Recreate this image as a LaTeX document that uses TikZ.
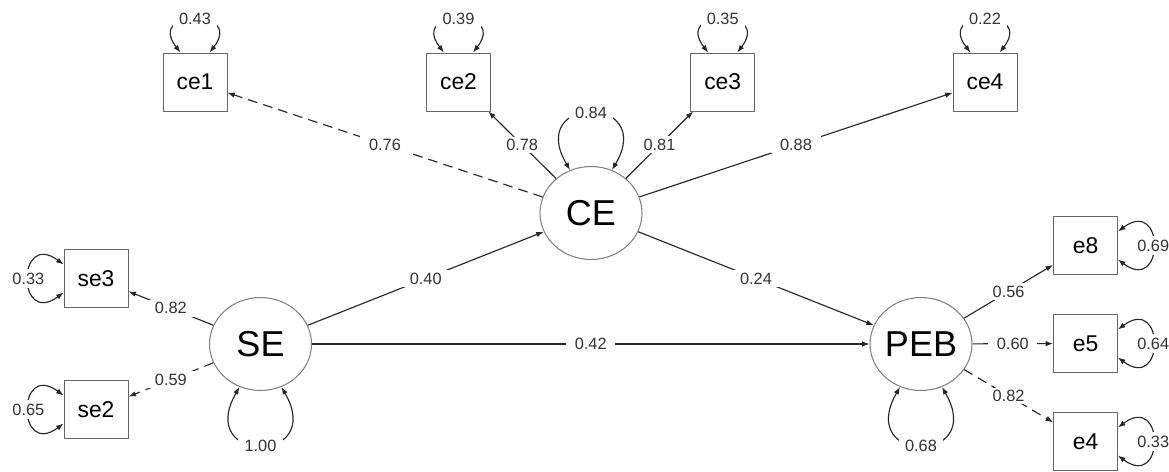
\documentclass[tikz,border=0pt]{standalone}
\usepackage{fontspec}
\setmainfont{Liberation Sans}
\usetikzlibrary{shapes.geometric,arrows.meta}
\begin{document}
\begin{tikzpicture}[x=0.02cm,y=0.02cm,
  tip/.tip={Latex[length=1.5mm,width=1.1mm]},
  manifest/.style={draw=black!60, line width=0.5pt, minimum width=1.28cm,
    minimum height=1.16cm, inner sep=0pt, font=\fontsize{13}{13}\selectfont},
  latent/.style={ellipse, draw=black!50, line width=0.6pt, minimum width=2.04cm,
    minimum height=1.86cm, inner sep=0pt, font=\fontsize{20.5}{20.5}\selectfont},
  load/.style={draw=black!85, line width=0.65pt, -tip},
  weak/.style={load, dash pattern=on 5.5pt off 3.5pt},
  resid/.style={draw=black!85, line width=0.65pt, tip-tip},
  elab/.style={fill=white, inner xsep=5pt, inner ysep=1.5pt,
    font=\fontsize{9.3}{9.3}\selectfont, text=black!80},
  rlab/.style={fill=white, inner xsep=3.5pt, inner ysep=2pt,
    font=\fontsize{9.3}{9.3}\selectfont, text=black!80},
]
\useasboundingbox (0,0) rectangle (1169,-471);

% observed indicators
\node[manifest] (ce1) at (195,-82) {ce1};
\node[manifest] (ce2) at (458.5,-82) {ce2};
\node[manifest] (ce3) at (722.7,-82) {ce3};
\node[manifest] (ce4) at (985,-82) {ce4};
\node[manifest] (se3) at (96,-278.5) {se3};
\node[manifest] (se2) at (96,-409.5) {se2};
\node[manifest] (e8) at (1085.5,-245.5) {e8};
\node[manifest] (e5) at (1085.5,-343.5) {e5};
\node[manifest] (e4) at (1085.5,-441.5) {e4};

% latent factors
\node[latent] (CE) at (591,-213) {\makebox[0pt]{CE}};
\node[latent] (SE) at (260.5,-344) {\makebox[0pt]{SE}};
\node[latent] (PEB) at (921,-344) {\makebox[0pt]{PEB}};

% loadings and structural paths
\draw[weak] (CE) -- node[elab]{0.76} (ce1);
\draw[load] (CE) -- node[elab]{0.78} (ce2);
\draw[load] (CE) -- node[elab]{0.81} (ce3);
\draw[load] (CE) -- node[elab]{0.88} (ce4);
\draw[load] (SE) -- node[elab]{0.82} (se3);
\draw[weak] (SE) -- node[elab]{0.59} (se2);
\draw[load] (SE) -- node[elab]{0.40} (CE);
\draw[load] (SE) -- node[elab]{0.42} (PEB);
\draw[load] (CE) -- node[elab]{0.24} (PEB);
\draw[load] (PEB) -- node[elab]{0.56} (e8);
\draw[load] (PEB) -- node[elab]{0.60} (e5);
\draw[weak] (PEB) -- node[elab]{0.82} (e4);

% residual variances of the indicators
\draw[resid] ([xshift=-0.29cm]ce1.north) .. controls +(-35,45) and +(35,45) .. node[rlab]{0.43} ([xshift=0.29cm]ce1.north);
\draw[resid] ([xshift=-0.29cm]ce2.north) .. controls +(-35,45) and +(35,45) .. node[rlab]{0.39} ([xshift=0.29cm]ce2.north);
\draw[resid] ([xshift=-0.29cm]ce3.north) .. controls +(-35,45) and +(35,45) .. node[rlab]{0.35} ([xshift=0.29cm]ce3.north);
\draw[resid] ([xshift=-0.29cm]ce4.north) .. controls +(-35,45) and +(35,45) .. node[rlab]{0.22} ([xshift=0.29cm]ce4.north);
\draw[resid] ([yshift=0.28cm]se3.west) .. controls +(-47,35) and +(-47,-35) .. node[rlab]{0.33} ([yshift=-0.28cm]se3.west);
\draw[resid] ([yshift=0.28cm]se2.west) .. controls +(-47,35) and +(-47,-35) .. node[rlab]{0.65} ([yshift=-0.28cm]se2.west);
\draw[resid] ([yshift=0.28cm]e8.east) .. controls +(47,35) and +(47,-35) .. node[rlab]{0.69} ([yshift=-0.28cm]e8.east);
\draw[resid] ([yshift=0.28cm]e5.east) .. controls +(47,35) and +(47,-35) .. node[rlab]{0.64} ([yshift=-0.28cm]e5.east);
\draw[resid] ([yshift=0.28cm]e4.east) .. controls +(47,35) and +(47,-35) .. node[rlab]{0.33} ([yshift=-0.28cm]e4.east);

% residual variances of the factors
\draw[resid] (CE.116) .. controls +(-45,76) and +(45,76) .. node[rlab]{0.84} (CE.64);
\draw[resid] (SE.-116) .. controls +(-45,-78) and +(45,-78) .. node[rlab]{1.00} (SE.-64);
\draw[resid] (PEB.-116) .. controls +(-45,-78) and +(45,-78) .. node[rlab]{0.68} (PEB.-64);
\end{tikzpicture}
\end{document}
